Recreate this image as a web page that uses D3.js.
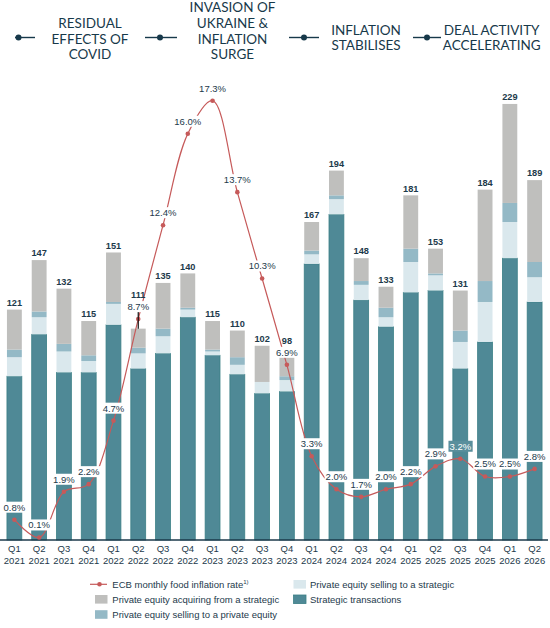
<!DOCTYPE html>
<html>
<head>
<meta charset="utf-8">
<script src="https://cdn.jsdelivr.net/npm/d3@7/dist/d3.min.js"></script>
<style>
    body { margin: 0; background: #fff; }
    svg  { display: block; }
</style>
</head>
<body>
<script>
/* global d3 */

// ---- data -------------------------------------------------------------
var quarters = [ "Q1 2021", "Q2 2021", "Q3 2021", "Q4 2021"
               , "Q1 2022", "Q2 2022", "Q3 2022", "Q4 2022"
               , "Q1 2023", "Q2 2023", "Q3 2023", "Q4 2023"
               , "Q1 2024", "Q2 2024", "Q3 2024", "Q4 2024"
               , "Q1 2025", "Q2 2025", "Q3 2025", "Q4 2025"
               , "Q1 2026", "Q2 2026"
               ];

var strategic       = [ 86, 108, 88, 88, 113, 90, 98, 117, 97, 87, 77, 78
                      , 145, 171, 126, 112, 130, 131, 90, 104, 148, 125 ];
var peToStrategic   = [ 10, 9, 11, 6, 11, 8, 9, 4, 2, 5, 6, 6
                      , 5, 8, 8, 5, 16, 8, 14, 21, 19, 13 ];
var peToPe          = [ 4, 3, 4, 3, 1, 3, 4, 1, 1, 4, 0, 2
                      , 2, 2, 2, 5, 7, 1, 6, 11, 10, 8 ];
var peFromStrategic = [ 21, 27, 29, 18, 26, 10, 24, 18, 15, 14, 19, 12
                      , 15, 13, 12, 11, 28, 13, 21, 48, 52, 43 ];
var totals          = [ 121, 147, 132, 115, 151, 111, 135, 140, 115, 110, 102, 98
                      , 167, 194, 148, 133, 181, 153, 131, 184, 229, 189 ];

var inflation = [ 0.8, 0.1, 1.9, 2.2, 4.7, 8.7, 12.4, 16.0, 17.3, 13.7, 10.3, 6.9
                , 3.3, 2.0, 1.7, 2.0, 2.2, 2.9, 3.2, 2.5, 2.5, 2.8 ];

var phases = [ ["RESIDUAL", "EFFECTS OF", "COVID"]
             , ["INVASION OF", "UKRAINE &", "INFLATION", "SURGE"]
             , ["INFLATION", "STABILISES"]
             , ["DEAL ACTIVITY", "ACCELERATING"]
             ];

var highlightQuarter = "Q3 2025";

// ---- layout -----------------------------------------------------------
var width   = 550;
var height  = 628;
var base    = 540;
var plotTop = 83;
var navy    = "#1d3a4b";
var font    = "'Liberation Sans', Arial, sans-serif";

var keys   = ["strategic", "peToStrategic", "peToPe", "peFromStrategic"];
var colors = { strategic:       "#4f8996"
             , peToStrategic:   "#dae8ed"
             , peToPe:          "#94b9c6"
             , peFromStrategic: "#bfbfbd"
             };
var names  = { strategic:       "Strategic transactions"
             , peToStrategic:   "Private equity selling to a strategic"
             , peToPe:          "Private equity selling to a private equity"
             , peFromStrategic: "Private equity acquiring from a strategic"
             };

var rows = quarters.map((q, i) => ({
    quarter: q,
    strategic: strategic[i],
    peToStrategic: peToStrategic[i],
    peToPe: peToPe[i],
    peFromStrategic: peFromStrategic[i],
    total: totals[i],
    inflation: inflation[i]
}));

var svg = d3.select("body").append("svg")
            .attr("width", width)
            .attr("height", height);

var x = d3.scaleBand()
          .domain(quarters)
          .range([2, 547])
          .paddingInner(0.4)
          .paddingOuter(0.2);

var yBar = d3.scaleLinear().domain([0, 240]).range([base, plotTop]);
var yInf = d3.scaleLinear().domain([0, 18]).range([base, plotTop]);

var cx = (q) => x(q) + x.bandwidth() / 2;

// ---- header phases ----------------------------------------------------
var phasePos = [ {tx: 90,    ty: 23.3, mx: 18.5, m0: 15,  m1: 35  }
               , {tx: 232.5, ty: 7.5,  mx: 160,  m0: 145, m1: 177 }
               , {tx: 366,   ty: 29.8, mx: 304,  m0: 289, m1: 319 }
               , {tx: 491.7, ty: 29.8, mx: 427,  m0: 413, m1: 441 }
               ];
var markY = 37.5;
var lineH = 15.6;

var header = svg.append("g").attr("class", "phases");
phases.forEach((lines, i) => {
    var p = phasePos[i];
    header.append("line")
          .attr("x1", p.m0).attr("x2", p.m1)
          .attr("y1", markY).attr("y2", markY)
          .attr("stroke", "#17394a").attr("stroke-width", 1.4);
    header.append("circle")
          .attr("cx", p.mx).attr("cy", markY).attr("r", 3)
          .attr("fill", "#17394a");
    header.append("text")
          .attr("x", p.tx)
          .attr("text-anchor", "middle")
          .attr("font-family", "Lato, sans-serif")
          .attr("font-size", 13.5)
          .attr("fill", "#17394a")
          .selectAll("tspan")
          .data(lines)
          .enter().append("tspan")
          .attr("x", p.tx)
          .attr("y", (d, j) => p.ty + j * lineH)
          .attr("dy", "0.36em")
          .text((d) => d);
});

// ---- bars -------------------------------------------------------------
var stacked = d3.stack().keys(keys)(rows);

svg.append("g")
   .selectAll("g")
   .data(stacked)
   .enter().append("g")
   .attr("fill", (d) => colors[d.key])
   .selectAll("rect")
   .data((d) => d.map((s) => Object.assign(s, {key: d.key})))
   .enter().append("rect")
   .attr("x", (d) => x(d.data.quarter))
   .attr("width", x.bandwidth())
   .attr("y", (d) => yBar(d[1]))
   .attr("height", (d) => yBar(d[0]) - yBar(d[1]))
   .attr("stroke", (d) => d.key === "strategic" ? "#3b7f86" : "none")
   .attr("stroke-width", 0.8);

// axis
var xAxis = svg.append("g")
               .attr("transform", `translate(0,${base})`)
               .call(d3.axisBottom(x).tickSize(0).tickPadding(0));
xAxis.select(".domain")
     .attr("d", "M0,0H548")
     .attr("stroke", navy)
     .attr("stroke-width", 1.5);
xAxis.selectAll(".tick text").remove();
xAxis.selectAll(".tick")
     .append("text")
     .attr("fill", navy)
     .attr("font-family", font)
     .attr("font-size", 9.5)
     .attr("text-anchor", "middle")
     .selectAll("tspan")
     .data((d) => d.split(" "))
     .enter().append("tspan")
     .attr("x", 0)
     .attr("y", (d, j) => 8.3 + j * 12.4)
     .attr("dy", "0.36em")
     .text((d) => d);

// ---- inflation line ---------------------------------------------------
var line = d3.line()
             .x((d) => cx(d.quarter))
             .y((d) => yInf(d.inflation))
             .curve(d3.curveCatmullRom.alpha(0.5));

svg.append("path")
   .datum(rows)
   .attr("d", line)
   .attr("fill", "none")
   .attr("stroke", "#c65a5a")
   .attr("stroke-width", 1.2);

svg.append("g")
   .selectAll("circle")
   .data(rows)
   .enter().append("circle")
   .attr("cx", (d) => cx(d.quarter))
   .attr("cy", (d) => yInf(d.inflation))
   .attr("r", 2.3)
   .attr("fill", "#c65a5a");

// ---- labels -----------------------------------------------------------
var labels = svg.append("g");

rows.forEach((d) => {
    var xc     = cx(d.quarter);
    var barTop = yBar(d.strategic + d.peToStrategic + d.peToPe + d.peFromStrategic);
    var infY   = yInf(d.inflation) - 12.5;
    var barY   = barTop - 7;
    var clash  = infY > barTop - 26 && infY < barTop + 8;

    if (clash) {
        barY = infY - 11.7;
        if (barTop - (infY + 5.5) > 3) {
            labels.append("line")
                  .attr("x1", xc).attr("x2", xc)
                  .attr("y1", infY + 5.5).attr("y2", barTop)
                  .attr("stroke", "#111").attr("stroke-width", 1.2);
        }
    }

    labels.append("text")
          .attr("x", xc).attr("y", barY)
          .attr("dy", "0.36em")
          .attr("text-anchor", "middle")
          .attr("font-family", font)
          .attr("font-weight", "bold")
          .attr("font-size", 9.2)
          .attr("fill", navy)
          .text(d.total);

    var hi  = d.quarter === highlightQuarter;
    var txt = d.inflation.toFixed(1) + "%";
    var t   = labels.append("text")
                    .attr("x", xc).attr("y", infY)
                    .attr("dy", "0.36em")
                    .attr("text-anchor", "middle")
                    .attr("font-family", font)
                    .attr("font-size", 9.5)
                    .attr("fill", hi ? "#fff" : navy)
                    .text(txt);
    var bb = t.node().getBBox();
    labels.insert("rect", () => t.node())
          .attr("x", bb.x - 1).attr("y", infY - 5.5)
          .attr("width", bb.width + 2).attr("height", 11)
          .attr("fill", hi ? "#5a8f9c" : "#fff");
});

// ---- legend -----------------------------------------------------------
var legend = svg.append("g")
                .attr("font-family", font)
                .attr("font-size", 9.5)
                .attr("fill", navy);

var legendItems = [ {key: "inflation",       col: 0, row: 0}
                  , {key: "peToStrategic",   col: 1, row: 0}
                  , {key: "peFromStrategic", col: 0, row: 1}
                  , {key: "strategic",       col: 1, row: 1}
                  , {key: "peToPe",          col: 0, row: 2}
                  ];
var rowY  = [584.3, 599.3, 614.5];
var colX  = [95, 293.5];
var textX = [112.3, 310];

legendItems.forEach((it) => {
    var ly = rowY[it.row];
    var lx = colX[it.col];
    var g  = legend.append("g");
    if (it.key === "inflation") {
        g.append("line")
         .attr("x1", 90).attr("x2", 107)
         .attr("y1", ly).attr("y2", ly)
         .attr("stroke", "#c65a5a").attr("stroke-width", 1.2);
        g.append("circle")
         .attr("cx", 99.5).attr("cy", ly).attr("r", 2.3)
         .attr("fill", "#c65a5a");
        var t = g.append("text")
                 .attr("x", textX[0]).attr("y", ly).attr("dy", "0.36em")
                 .text("ECB monthly food inflation rate");
        t.append("tspan")
         .attr("font-size", 6)
         .attr("dy", "-0.6em")
         .text("1)");
    } else {
        g.append("rect")
         .attr("x", lx).attr("y", ly - 4.3)
         .attr("width", 12.5).attr("height", 8.6)
         .attr("fill", colors[it.key])
         .attr("stroke", it.key === "strategic" ? "#3b7f86" : "none")
         .attr("stroke-width", 0.8);
        g.append("text")
         .attr("x", textX[it.col]).attr("y", ly).attr("dy", "0.36em")
         .text(names[it.key]);
    }
});
</script>
</body>
</html>
